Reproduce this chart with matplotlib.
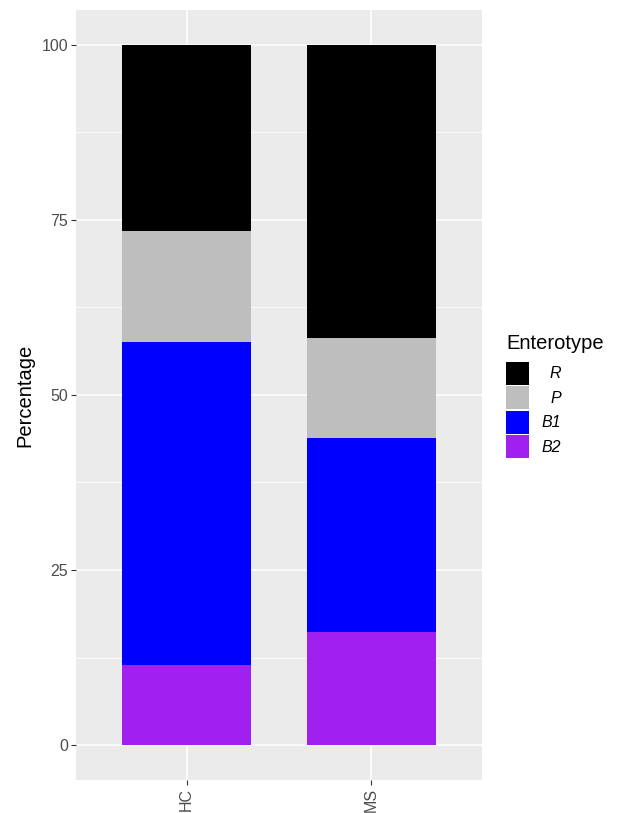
import matplotlib
matplotlib.use("Agg")
import matplotlib.pyplot as plt
from matplotlib.patches import Rectangle
import numpy as np

plt.rcParams['font.family'] = ['Liberation Sans', 'DejaVu Sans']

groups = ["HC", "MS"]
# stack order bottom -> top
types = ["B2", "B1", "P", "R"]
colors = {"B2": "#A020F0", "B1": "#0000FF", "P": "#BEBEBE", "R": "#000000"}
values = {
    "B2": [11.5, 16.2],
    "B1": [46.0, 27.6],
    "P": [15.9, 14.3],
    "R": [26.6, 41.9],
}

W, H = 619, 813
fig = plt.figure(figsize=(W / 100, H / 100), dpi=100)
ax = fig.add_axes([76 / W, (H - 780) / H, (482 - 76) / W, (780 - 10) / H])
ax.set_facecolor("#EBEBEB")

x = np.arange(1, len(groups) + 1)
bottom = np.zeros(len(groups))
for t in types:
    v = np.array(values[t])
    ax.bar(x, v, width=0.7, bottom=bottom, color=colors[t], zorder=3)
    bottom += v

ax.set_xlim(0.4, 2.6)
ax.set_ylim(-5, 105)
ax.set_yticks([0, 25, 50, 75, 100])
ax.set_yticks([12.5, 37.5, 62.5, 87.5], minor=True)
ax.set_xticks(x)
ax.set_xticklabels(groups, rotation=90, va="top", ha="center")
ax.grid(which="major", color="white", linewidth=1.1, zorder=0)
ax.grid(which="minor", axis="y", color="white", linewidth=0.55, zorder=0)
ax.tick_params(which="major", length=3.5, width=0.8, color="#333333",
               labelsize=11.5, labelcolor="#4D4D4D", pad=2)
ax.tick_params(which="minor", length=0)
for s in ax.spines.values():
    s.set_visible(False)
ax.set_ylabel("Percentage", fontsize=14.5, labelpad=5)

# legend
fig.text(506 / W, 1 - 343 / H, "Enterotype", fontsize=14.5, va="center", ha="left")
leg_labels = ["R", "P", "B1", "B2"]
for i, lab in enumerate(leg_labels):
    top = 362 + i * 24.5
    fig.patches.append(Rectangle((506 / W, 1 - (top + 23) / H), 23 / W, 23 / H,
                                 transform=fig.transFigure, facecolor=colors[lab],
                                 edgecolor="none"))
    fig.text(561 / W, 1 - (top + 11.5) / H, lab, fontsize=11.5, style="italic",
             ha="right", va="center")

fig.savefig("out.png", dpi=100)
